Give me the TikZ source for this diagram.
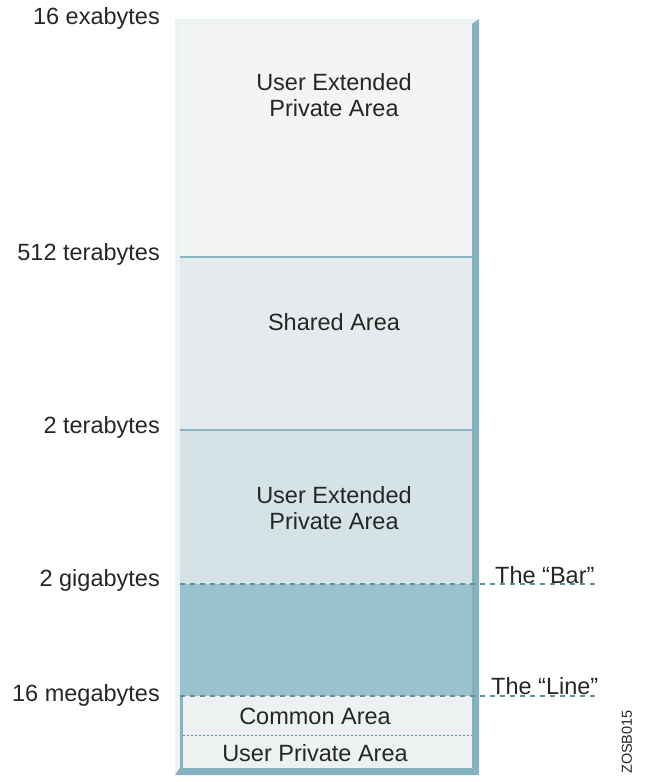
\documentclass[tikz,border=0pt]{standalone}
\usepackage{fontspec}
\setmainfont{Liberation Sans}
\usepackage{tikz}

\definecolor{topfill}{HTML}{F3F5F5}
\definecolor{sharedfill}{HTML}{E5EAEC}
\definecolor{midfill}{HTML}{D5E3E7}
\definecolor{barfill}{HTML}{98C2CF}
\definecolor{lowfill}{HTML}{EDF1F2}
\definecolor{rimlight}{HTML}{EDF2F3}
\definecolor{rimdark}{HTML}{84B2C1}
\definecolor{sepline}{HTML}{8AB4C3}
\definecolor{dashline}{HTML}{5F8D9B}

\begin{document}
\begin{tikzpicture}[x=1pt, y=-1pt,
    every node/.style={font=\fontsize{23.5}{26}\selectfont, text=black!85},
    addr/.style={anchor=east, inner sep=0pt},
    area/.style={align=center, inner sep=0pt},
    marker/.style={anchor=base west, inner sep=0pt},
    sep/.style={draw=sepline, line width=1.2},
    boundary/.style={draw=dashline, line width=2, dash pattern=on 5pt off 5pt},
    finesep/.style={draw=dashline, line width=0.8, dash pattern=on 1.5pt off 2.5pt}]
    \useasboundingbox (0,0) rectangle (647,782);

    % frame
    \fill[rimlight] (175,19) rectangle (479,775);
    \fill[topfill] (180,24) rectangle (472,257);
    \fill[sharedfill] (180,257) rectangle (472,430);
    \fill[midfill] (180,430) rectangle (472,584);
    \fill[barfill] (180,584) rectangle (472,696);
    \fill[rimdark] (180,696) rectangle (183,768);
    \fill[lowfill] (183,696) rectangle (472,768);
    \fill[rimdark] (472,24) -- (479,19) -- (479,775) -- (472,768) -- cycle;
    \fill[rimdark] (175,775) -- (479,775) -- (472,768) -- (180,768) -- cycle;

    \coordinate (s1w) at (180,257);
    \coordinate (s1e) at (472,257);
    \coordinate (s2w) at (180,430);
    \coordinate (s2e) at (472,430);
    \coordinate (barw) at (180,584);
    \coordinate (bare) at (598,584);
    \coordinate (linew) at (180,696);
    \coordinate (linee) at (598,696);
    \coordinate (cw) at (183,735);
    \coordinate (ce) at (472,735);

    \path[sep] (s1w) edge (s1e);
    \path[sep] (s2w) edge (s2e);
    \path[boundary] (barw) edge (bare);
    \path[boundary] (linew) edge (linee);
    \path[finesep] (cw) edge (ce);

    % addresses
    \node[addr] (ex) at (160,18) {16 exabytes};
    \node[addr] (tb512) at (160,254) {512 terabytes};
    \node[addr] (tb2) at (160,427) {2 terabytes};
    \node[addr] (gb2) at (160,580) {2 gigabytes};
    \node[addr] (mb16) at (160,695) {16 megabytes};

    % areas
    \node[area] (uepa1) at (334,95) {User Extended\\Private Area};
    \node[area] (shared) at (334,322) {Shared Area};
    \node[area] (uepa2) at (334,508) {User Extended\\Private Area};
    \node[area] (common) at (315,716) {Common Area};
    \node[area] (upa) at (315,753) {User Private Area};

    \node[marker] (bar) at (495,583) {The “Bar”};
    \node[marker] (line) at (491,694) {The “Line”};

    \node[rotate=90, inner sep=0pt, font=\fontsize{14.5}{16}\selectfont] (fig) at (627,742) {ZOSB015};
\end{tikzpicture}
\end{document}
